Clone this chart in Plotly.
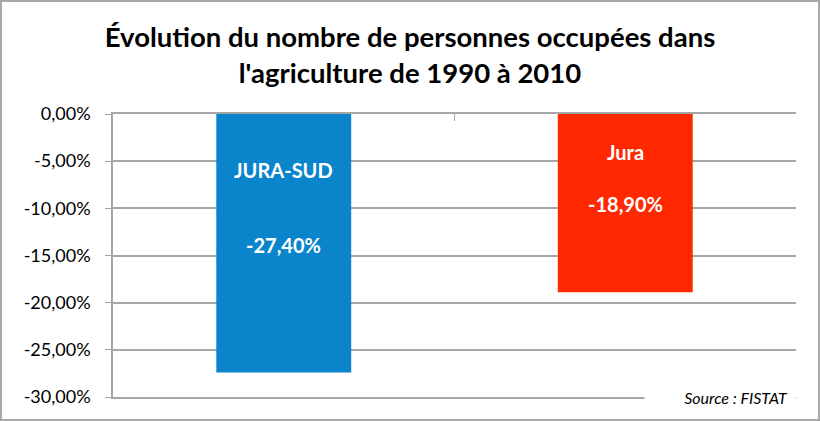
import plotly.graph_objects as go

# data
categories = ["JURA-SUD", "Jura"]
values = [-27.40, -18.90]
bar_colors = ["#0A84CA", "#FF2800"]
y_ticks = [0, -5, -10, -15, -20, -25, -30]
y_tick_text = ["0,00%", "-5,00%", "-10,00%", "-15,00%", "-20,00%", "-25,00%", "-30,00%"]

W, H = 820, 421
ml, mr, mt, mb = 113, 24, 114, 24
pw, ph = W - ml - mr, H - mt - mb

fig = go.Figure()
fig.add_trace(go.Bar(
    x=categories, y=values, marker_color=bar_colors,
    marker_line_width=0, width=0.395, hoverinfo="skip",
))

font = "Lato, 'Open Sans', sans-serif"

# labels inside bars
for c, v in zip(categories, values):
    fig.add_annotation(x=c, y=v * 0.215, text="<b>%s</b>" % c, showarrow=False,
                       font=dict(family=font, size=20, color="white"))
    fig.add_annotation(x=c, y=v * 0.505, text="<b>%s%%</b>" % ("%.2f" % v).replace(".", ","),
                       showarrow=False, font=dict(family=font, size=20, color="white"))

fig.add_annotation(xref="paper", yref="paper", x=1, y=0, xanchor="right", yanchor="middle",
                   text="<i>Source : FISTAT</i>&nbsp;&nbsp;", showarrow=False, bgcolor="white",
                   width=150, align="right", borderpad=0,
                   font=dict(family=font, size=16, color="black"))

# outer frame
fig.add_shape(type="rect", xref="paper", yref="paper",
              x0=-(ml - 1) / pw, x1=1 + (mr - 1) / pw, y0=-(mb - 1) / ph, y1=1 + (mt - 1) / ph,
              line=dict(color="#A8A8A8", width=2), layer="below")

fig.update_layout(
    width=W, height=H,
    margin=dict(l=ml, r=mr, t=mt, b=mb),
    paper_bgcolor="white", plot_bgcolor="white",
    showlegend=False,
    title=dict(text="<b>Évolution du nombre de personnes occupées dans<br>l'agriculture de 1990 à 2010</b>",
               x=0.5, xref="container", y=1 - 47 / H, yref="container", yanchor="middle",
               font=dict(family=font, size=27.5, color="black")),
    xaxis=dict(side="top", showticklabels=False, ticks="inside", ticklen=7, tickcolor="#A6A6A6",
               tickson="boundaries", showgrid=False, zeroline=False,
               showline=True, mirror=True, linecolor="#A6A6A6", linewidth=1.5,
               layer="below traces"),
    yaxis=dict(range=[-30, 0], tickvals=y_ticks, ticktext=y_tick_text,
               showgrid=True, gridcolor="#A6A6A6", gridwidth=1.5,
               showline=True, linecolor="#A6A6A6", linewidth=1.5,
               ticks="outside", ticklen=6, tickcolor="#A6A6A6", zeroline=False,
               ticklabelstandoff=11, layer="below traces",
               tickfont=dict(family=font, size=18, color="black")),
)

fig.write_html("out.html", config={"displayModeBar": False},
               post_script="document.body.style.margin='0px';")
